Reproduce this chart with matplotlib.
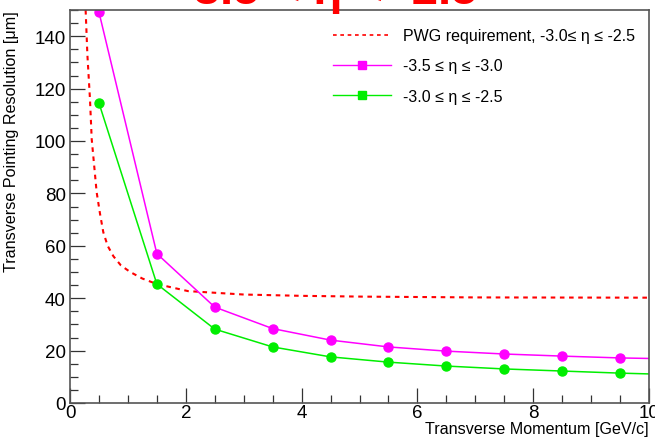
import numpy as np
import matplotlib
matplotlib.use("Agg")
import matplotlib.pyplot as plt
from matplotlib.lines import Line2D
from matplotlib.ticker import MultipleLocator

plt.rcParams['font.family'] = ['Liberation Sans', 'DejaVu Sans']

# data
pt = [0.5, 1.5, 2.5, 3.5, 4.5, 5.5, 6.5, 7.5, 8.5, 9.5, 10.0]
res_35_30 = [149.2, 57.0, 36.6, 28.4, 24.0, 21.4, 19.8, 18.7, 17.9, 17.2, 17.0]
res_30_25 = [114.5, 45.4, 28.2, 21.4, 17.6, 15.6, 14.1, 13.0, 12.2, 11.4, 11.1]

pwg_pt = [0.27, 0.30, 0.345, 0.375, 0.42, 0.46, 0.52, 0.575, 0.65, 0.75, 0.88,
          1.04, 1.25, 1.5, 2.04, 3.0, 4.0, 5.06, 7.0, 10.0]
pwg_res = [150, 133, 116, 100.7, 90, 80.5, 72, 65.2, 60, 56, 52.5,
           50, 47.5, 45.4, 42.7, 41.4, 40.9, 40.6, 40.3, 40.2]

title = "-3.5 < η < -2.5"
lab_pwg = "PWG requirement, -3.0≤ η ≤ -2.5"
lab_a = "-3.5 ≤ η ≤ -3.0"
lab_b = "-3.0 ≤ η ≤ -2.5"

fig = plt.figure(figsize=(6.55, 4.39), dpi=100)
ax = fig.add_axes([70/655, 35/439, 579/655, 393/439])

ax.plot(pwg_pt, pwg_res, color='#ff0000', lw=1.5, ls=(0, (2.2, 2.2)))
ax.plot(pt, res_35_30, color='#ff00ff', lw=1.1, marker='o', ms=6.5,
        markevery=slice(0, 10))
ax.plot(pt, res_30_25, color='#00ee00', lw=1.1, marker='o', ms=6.5,
        markevery=slice(0, 10))

ax.set_xlim(0, 10)
ax.set_ylim(0, 150)
ax.xaxis.set_major_locator(MultipleLocator(2))
ax.xaxis.set_minor_locator(MultipleLocator(0.5))
ax.yaxis.set_major_locator(MultipleLocator(20))
ax.yaxis.set_minor_locator(MultipleLocator(5))
ax.tick_params(which='both', direction='in', labelsize=13.5, color='#333333')
ax.tick_params(which='major', length=11, width=0.9)
ax.tick_params(which='minor', length=5.5, width=0.9)
ax.tick_params(axis='x', pad=1)
ax.tick_params(axis='y', pad=3)
for s in ax.spines.values():
    s.set_color('#555555')
    s.set_linewidth(1.2)

ax.set_xlabel("Transverse Momentum [GeV/c]", fontsize=11.6, ha='right')
ax.xaxis.set_label_coords(1.0, -0.045)
ax.set_ylabel("Transverse Pointing Resolution [μm]", fontsize=11.6, ha='right')
ax.yaxis.set_label_coords(-0.088, 1.0)

handles = [
    Line2D([], [], color='#ff0000', lw=1.2, ls=(0, (2.2, 2.2))),
    Line2D([], [], color='#ff00ff', lw=1.0, marker='s', ms=6),
    Line2D([], [], color='#00ee00', lw=1.0, marker='s', ms=6),
]
ax.legend(handles, [lab_pwg, lab_a, lab_b], loc='upper right', frameon=False,
          fontsize=11.5, handlelength=3.6, handletextpad=0.75, labelspacing=0.95,
          bbox_to_anchor=(1.0, 0.99))

fig.text(0.5, 1 - 3.5/439, title, color='#ff0000', fontsize=34,
         fontweight='bold', ha='center', va='baseline')

fig.savefig("out.png", dpi=100)
